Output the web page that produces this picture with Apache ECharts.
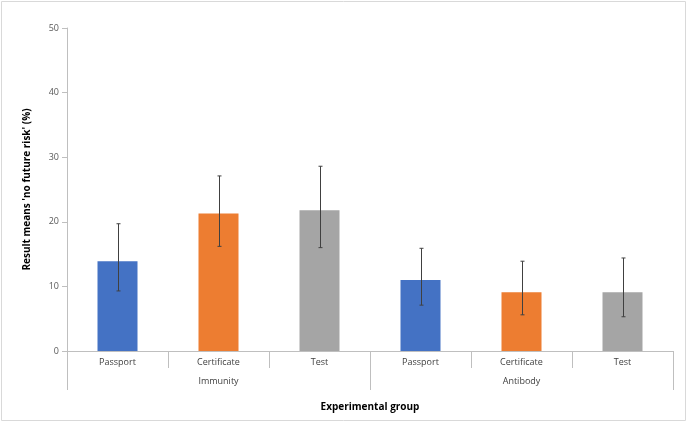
<!DOCTYPE html>
<html><head><meta charset="utf-8">
<script src="https://cdn.jsdelivr.net/npm/echarts@6/dist/echarts.min.js"></script>
<style>html,body{margin:0;padding:0;background:#fff}#c{width:688px;height:425px}</style>
</head><body><div id="c"></div>
<script>
var categories = ['Passport','Certificate','Test','Passport','Certificate','Test'];
var groups = ['Immunity','Antibody'];
var means = [13.9, 21.3, 21.8, 11.0, 9.1, 9.1];
var lower = [9.3, 16.2, 16.0, 7.1, 5.6, 5.3];
var upper = [19.7, 27.1, 28.6, 15.9, 13.9, 14.4];
var colors = ['#4472C4','#ED7D31','#A5A5A5','#4472C4','#ED7D31','#A5A5A5'];
var yTicks = [0,10,20,30,40,50];

var font = '"Open Sans", "Liberation Sans", sans-serif';
var chart = echarts.init(document.getElementById('c'));
chart.setOption({
  animation:false,
  graphic:[{type:'rect',shape:{x:1.5,y:1.5,width:684,height:419},style:{fill:'none',stroke:'#d9d9d9',lineWidth:1},silent:true}],
  grid:{left:67,right:15,top:28,bottom:74},
  xAxis:[{
    type:'category', data:categories, position:'bottom',
    axisLine:{lineStyle:{color:'#bfbfbf'}},
    axisTick:{show:true,length:17,interval:0,lineStyle:{color:'#bfbfbf'}},
    axisLabel:{color:'#404040',fontSize:9,fontFamily:font,margin:7,interval:0},
    name:'Experimental group', nameLocation:'middle', nameGap:51,
    nameTextStyle:{color:'#000',fontSize:10,fontWeight:'bold',fontFamily:font}
  },{
    type:'category', data:groups, position:'bottom',
    axisLine:{show:false},
    axisTick:{show:true,length:39,interval:0,lineStyle:{color:'#bfbfbf'}},
    axisLabel:{color:'#404040',fontSize:9,fontFamily:font,margin:26,interval:0}
  }],
  yAxis:{
    type:'value', min:0, max:50, interval:10,
    axisLine:{show:true,lineStyle:{color:'#bfbfbf'}},
    axisTick:{show:true,length:5,lineStyle:{color:'#bfbfbf'}},
    splitLine:{show:false},
    axisLabel:{color:'#595959',fontSize:9,fontFamily:font,margin:8,
      formatter:function(v){return yTicks.indexOf(v)>=0?String(v):'';}},
    name:"Result means 'no future risk' (%)", nameLocation:'middle', nameGap:35,
    nameTextStyle:{color:'#000',fontSize:10,fontWeight:'bold',fontFamily:font}
  },
  series:[{
    type:'bar', xAxisIndex:0, barWidth:40,
    data:means.map(function(v,i){return {value:v,itemStyle:{color:colors[i]}};})
  },{
    type:'custom', xAxisIndex:0, z:10,
    data:categories.map(function(c,i){return [i,lower[i],upper[i]];}),
    renderItem:function(params,api){
      var lo=api.coord([api.value(0),api.value(1)]);
      var hi=api.coord([api.value(0),api.value(2)]);
      var x=Math.round(lo[0])+0.5, w=2;
      var st={stroke:'#404040',lineWidth:1};
      return {type:'group',children:[
        {type:'line',shape:{x1:x,y1:hi[1],x2:x,y2:lo[1]},style:st},
        {type:'line',shape:{x1:x-w,y1:hi[1],x2:x+w,y2:hi[1]},style:st},
        {type:'line',shape:{x1:x-w,y1:lo[1],x2:x+w,y2:lo[1]},style:st}
      ]};
    }
  }]
});
</script></body></html>
